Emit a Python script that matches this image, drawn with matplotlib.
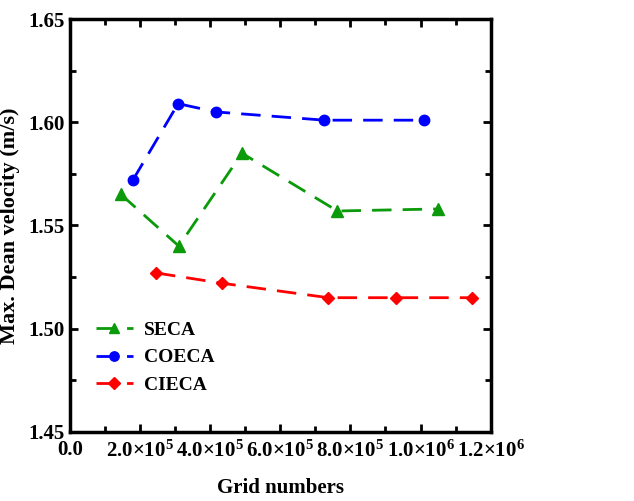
import matplotlib
matplotlib.use('Agg')
import matplotlib.pyplot as plt
from matplotlib.ticker import MultipleLocator, FuncFormatter

plt.rcParams['font.family'] = ['Liberation Serif', 'DejaVu Serif']
plt.rcParams['font.weight'] = 'bold'
plt.rcParams['mathtext.fontset'] = 'custom'
plt.rcParams['mathtext.rm'] = 'Liberation Serif:bold'
plt.rcParams['mathtext.bf'] = 'Liberation Serif:bold'
plt.rcParams['mathtext.fallback'] = 'stix'

# data
seca_x = [1.46e5, 3.11e5, 4.91e5, 7.63e5, 1.051e6]
seca_y = [1.565, 1.540, 1.585, 1.557, 1.558]
coeca_x = [1.80e5, 3.09e5, 4.17e5, 7.26e5, 1.011e6]
coeca_y = [1.572, 1.609, 1.605, 1.601, 1.601]
cieca_x = [2.46e5, 4.34e5, 7.37e5, 9.31e5, 1.146e6]
cieca_y = [1.527, 1.522, 1.515, 1.515, 1.515]

x_tick_labels = ['0.0', r'$\mathbf{2.0{\times}10^{5}}$', r'$\mathbf{4.0{\times}10^{5}}$',
                 r'$\mathbf{6.0{\times}10^{5}}$', r'$\mathbf{8.0{\times}10^{5}}$',
                 r'$\mathbf{1.0{\times}10^{6}}$', r'$\mathbf{1.2{\times}10^{6}}$']

fig = plt.figure(figsize=(6.34, 5.01), dpi=100)
ax = fig.add_axes([0.110, 0.138, 0.664, 0.824])

dash = (0, (7, 4))
ax.plot(seca_x, seca_y, ls=dash, lw=2, color='#0a9a0a', marker='^', ms=8, label='SECA')
ax.plot(coeca_x, coeca_y, ls=dash, lw=2, color='#0000ff', marker='o', ms=7.5, label='COECA')
ax.plot(cieca_x, cieca_y, ls=dash, lw=2, color='#ff0000', marker='D', ms=6.5, label='CIECA')

ax.set_xlim(0, 1.2e6)
ax.set_ylim(1.45, 1.65)
ax.xaxis.set_major_locator(MultipleLocator(2e5))
ax.xaxis.set_minor_locator(MultipleLocator(1e5))
ax.yaxis.set_major_locator(MultipleLocator(0.05))
ax.yaxis.set_minor_locator(MultipleLocator(0.025))
ax.xaxis.set_major_formatter(FuncFormatter(lambda v, p: x_tick_labels[int(round(v / 2e5))] if 0 <= round(v / 2e5) < 7 else ''))
ax.yaxis.set_major_formatter(FuncFormatter(lambda v, p: f'{v:.2f}'))

ax.tick_params(which='both', direction='in', top=True, right=True, width=2)
ax.tick_params(axis='y', labelsize=15)
ax.tick_params(axis='x', labelsize=15, pad=6)
ax.tick_params(which='major', length=6)
ax.tick_params(which='minor', length=4)
for s in ax.spines.values():
    s.set_linewidth(2.5)

ax.set_xlabel('Grid numbers', fontsize=15, fontweight='bold', labelpad=12)
ax.set_ylabel('Max. Dean velocity (m/s)', fontsize=16, fontweight='bold', labelpad=6)

ax.legend(loc='lower left', bbox_to_anchor=(0.02, 0.05), frameon=False, fontsize=14,
          handlelength=1.9, handletextpad=0.6, labelspacing=0.5, markerscale=0.9)

fig.savefig('out.png', dpi=100)
